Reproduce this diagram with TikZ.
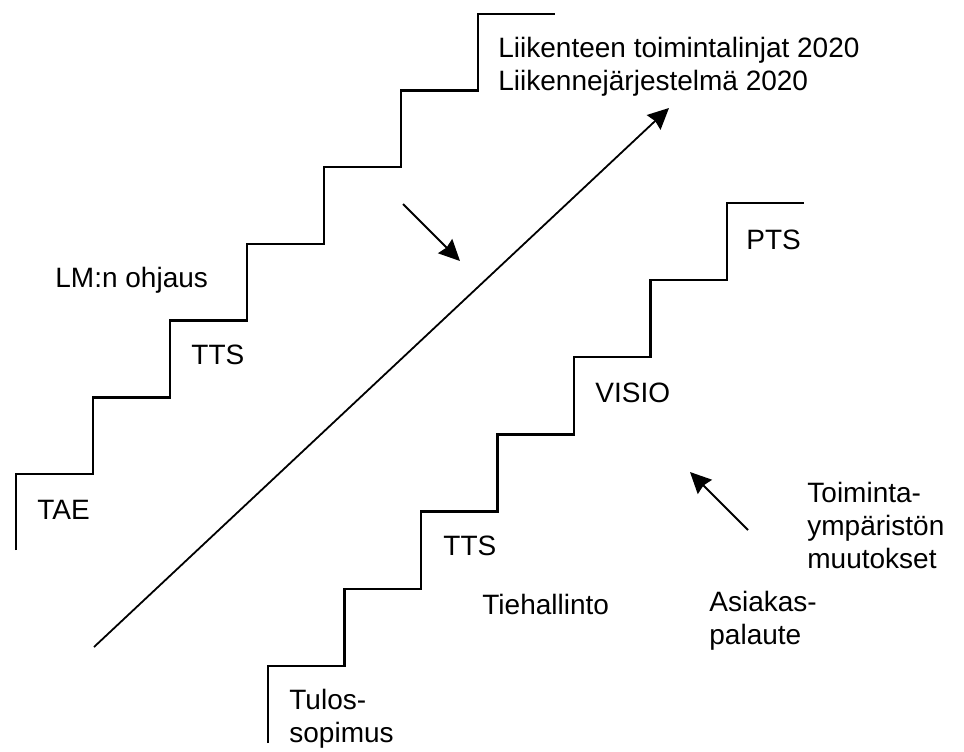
\documentclass[tikz,border=0pt]{standalone}
\usepackage{fontspec}
\setmainfont{Liberation Sans}
\usetikzlibrary{arrows.meta}

\tikzset{
    stair/.style={line width=1.2pt, line join=miter},
    label/.style={anchor=west, inner sep=0pt, align=left, font=\fontsize{14}{16.5}\selectfont},
    flow/.style={line width=0.9pt, -{Stealth[length=10.5pt, width=10pt, inset=1pt]}}
}

\begin{document}
\begin{tikzpicture}[x=0.5pt, y=-0.5pt]
    \useasboundingbox (0,0) rectangle (964,751);

    % draw left staircase
    \draw[stair] (16,550) -- (16,474)
        \foreach \k in {1,...,6} { -- ++(77,0) -- ++(0,-76.7) } -- ++(77,0);

    % draw right staircase
    \draw[stair] (268,743) -- (268,666)
        \foreach \k in {1,...,6} { -- ++(76.5,0) -- ++(0,-77.2) } -- ++(76.5,0);

    % arrow ends
    \coordinate (diagstart) at (94,647);
    \coordinate (diagend)   at (669,108);
    \coordinate (downtail)  at (403,204);
    \coordinate (downtip)   at (460,261);
    \coordinate (uptail)    at (748,530);
    \coordinate (uptip)     at (690,472);

    % draw arrows
    \draw[flow] (diagstart) -- (diagend);
    \draw[flow] (downtail) -- (downtip);
    \draw[flow] (uptail) -- (uptip);

    % draw labels, left staircase
    \node[label] (goals) at (498,67) {Liikenteen toimintalinjat 2020\\Liikennejärjestelmä 2020};
    \node[label] (lm)    at (55,280)  {LM:n ohjaus};
    \node[label] (ttsl)  at (191,355) {TTS};
    \node[label] (tae)   at (37,510)  {TAE};

    % draw labels, right staircase
    \node[label] (pts)   at (746,240) {PTS};
    \node[label] (visio) at (595,393) {VISIO};
    \node[label] (ttsr)  at (443,546) {TTS};
    \node[label] (th)    at (482,604) {Tiehallinto};
    \node[label] (tulos) at (289,719) {Tulos-\\sopimus};
    \node[label] (asiak) at (709,621) {Asiakas-\\palaute};
    \node[label] (ymp)   at (807,525) {Toiminta-\\ympäristön\\muutokset};
\end{tikzpicture}
\end{document}
